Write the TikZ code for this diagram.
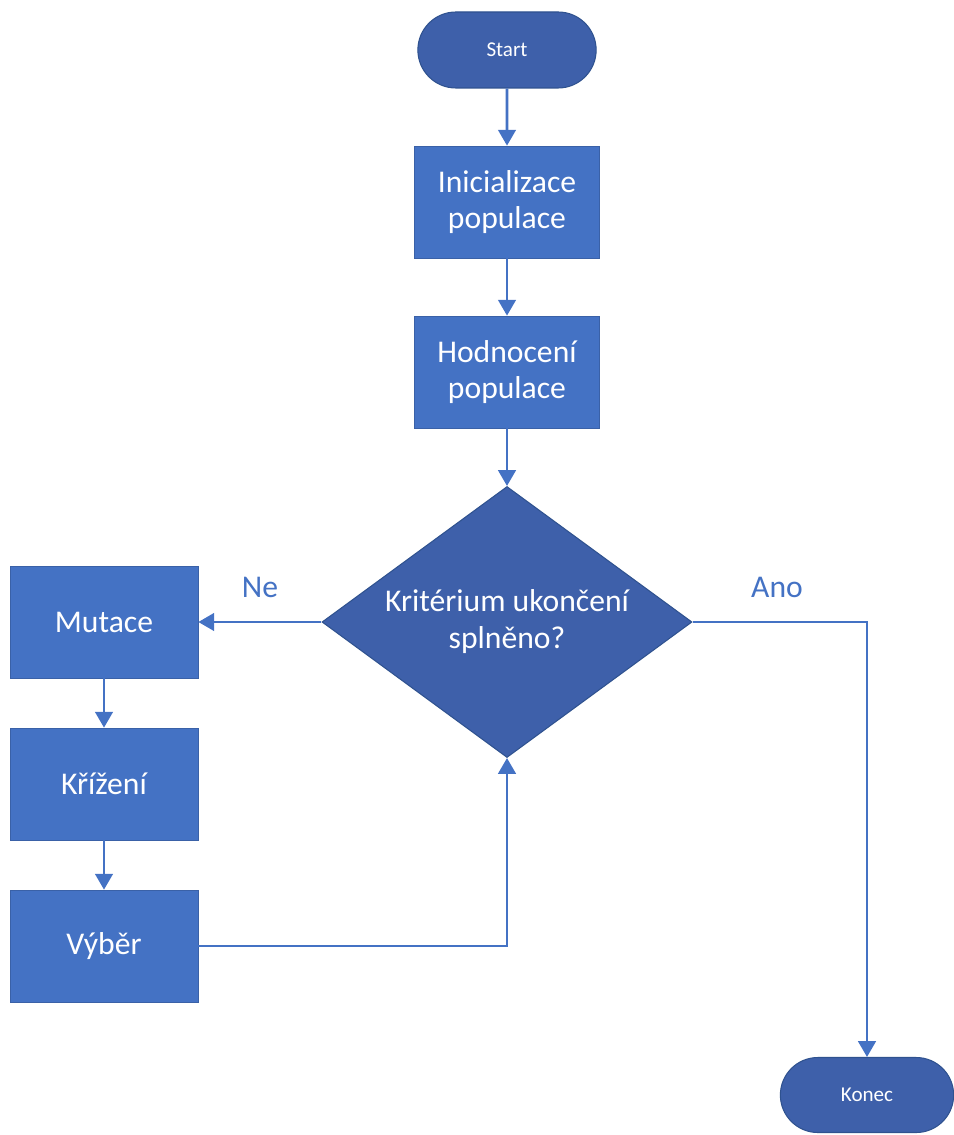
\documentclass[tikz,border=0pt]{standalone}
\usepackage{fontspec}
\setmainfont{Carlito}
\usetikzlibrary{shapes.geometric, shapes.misc, arrows.meta}
\definecolor{boxblue}{RGB}{68, 114, 196}
\definecolor{deepblue}{RGB}{62, 96, 170}
\definecolor{edgeblue}{RGB}{47, 82, 143}

\tikzset{
  proc/.style={rectangle, fill=boxblue, draw=boxblue!85!black, line width=0.4pt,
    minimum width=3.7cm, minimum height=2.24cm, text=white, align=center,
    font=\fontsize{18}{20}\selectfont},
  term/.style={rounded rectangle, fill=deepblue, draw=edgeblue, line width=0.6pt,
    minimum width=3.8cm, minimum height=1.52cm, text=white,
    font=\fontsize{12}{14}\selectfont},
  decision/.style={diamond, aspect=1.365, fill=deepblue, draw=edgeblue, line width=0.6pt,
    minimum width=7.4cm, minimum height=5.42cm, inner sep=0pt, text=white,
    align=center, font=\fontsize{18}{21}\selectfont},
  flow/.style={-{Triangle[width=10pt, length=9pt]}, boxblue, line width=1.5pt},
  answer/.style={text=boxblue, font=\fontsize{18}{20}\selectfont}
}

\begin{document}
\begin{tikzpicture}
  \useasboundingbox (0, 0) rectangle (19.06, -22.7);

  \node[term] (start) at (10.14, -1.0) {Start};
  \node[proc] (init) at (10.14, -4.04) {Inicializace\\populace};
  \node[proc] (eval) at (10.14, -7.44) {Hodnocení\\populace};
  \node[decision] (crit) at (10.14, -12.44) {Kritérium ukončení\\splněno?};

  \node[proc, minimum width=3.76cm] (mut) at (2.08, -12.44) {Mutace};
  \node[proc, minimum width=3.76cm] (cross) at (2.08, -15.68) {Křížení};
  \node[proc, minimum width=3.76cm] (sel) at (2.08, -18.92) {Výběr};

  \node[term, minimum width=3.7cm, minimum height=1.5cm] (stop) at (17.34, -21.9) {Konec};

  \node[answer] (no) at (5.2, -11.74) {Ne};
  \node[answer] (yes) at (15.54, -11.74) {Ano};

  \draw[flow] (start) -- (init);
  \draw[flow] (init) -- (eval);
  \draw[flow] (eval) -- (crit);
  \draw[flow] (crit) -- (mut);
  \draw[flow] (mut) -- (cross);
  \draw[flow] (cross) -- (sel);
  \draw[flow] (sel.east) -| (crit.south);
  \draw[flow] (crit.east) -| (stop.north);
\end{tikzpicture}
\end{document}
